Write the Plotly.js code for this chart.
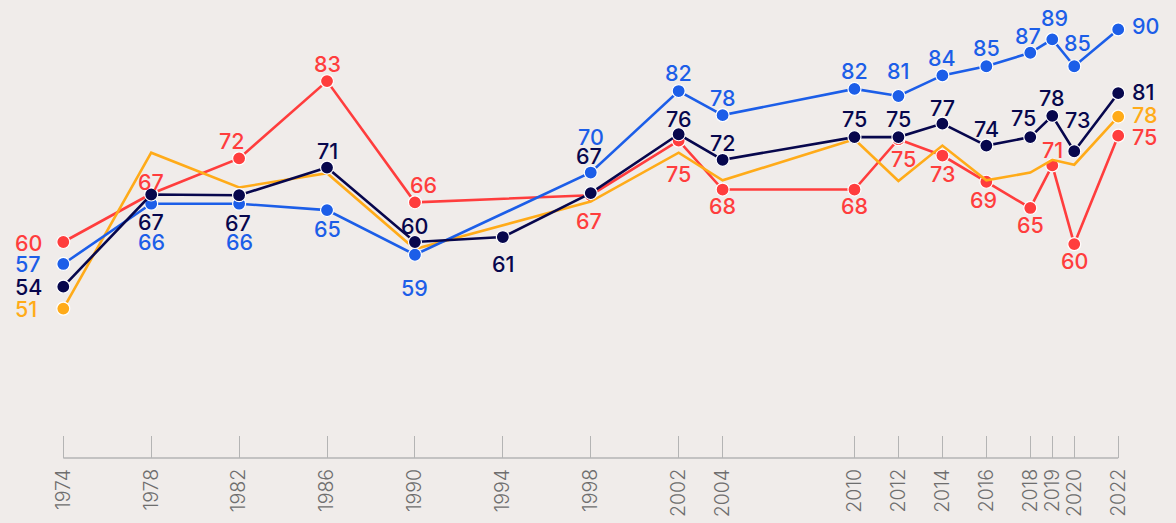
<!DOCTYPE html>
<html>
<head>
<meta charset="utf-8">
<script src="https://cdn.plot.ly/plotly-3.0.1.min.js"></script>
<style>
  html, body { margin: 0; padding: 0; background: #f0ecea; }
  #chart { width: 1176px; height: 523px; }
</style>
</head>
<body>
<div id="chart"></div>
<script>
// ---------- DATA ----------
const years      = [1974, 1978, 1982, 1986, 1990, 1998, 2002, 2004, 2010, 2012, 2014, 2016, 2018, 2019, 2020, 2022];
const yearsNavy  = [1974, 1978, 1982, 1986, 1990, 1994, 1998, 2002, 2004, 2010, 2012, 2014, 2016, 2018, 2019, 2020, 2022];
const tickYears  = [1974, 1978, 1982, 1986, 1990, 1994, 1998, 2002, 2004, 2010, 2012, 2014, 2016, 2018, 2019, 2020, 2022];

const redValues    = [60.4, 67.2, 72.2, 83.1, 66.0, 67.0, 74.7, 67.8, 67.8, 74.9, 72.6, 68.9, 65.2, 71.2, 60.1, 75.4];
const blueValues   = [57.3, 65.8, 65.8, 64.9, 58.6, 70.2, 81.7, 78.3, 82.0, 81.0, 83.9, 85.2, 87.1, 89.0, 85.2, 90.4];
const navyValues   = [54.1, 67.1, 67.0, 70.9, 60.4, 61.1, 67.3, 75.6, 72.0, 75.2, 75.2, 77.1, 74.0, 75.2, 78.2, 73.2, 81.4];
const yellowValues = [51.0, 73.0, 68.1, 70.1, 59.4, 66.1, 73.0, 69.1, 74.9, 69.0, 74.0, 69.1, 70.2, 72.0, 71.3, 78.1];

// ---------- STYLE ----------
const COLORS = { red: '#ff3d3d', blue: '#1c5ee8', navy: '#07074d', yellow: '#ffab19' };
const BG = '#f0ecea';
const FONT = 'Inter, "Open Sans", sans-serif';
const AXIS_COLOR = '#b4b4b4';

// label placement (pixel offsets relative to the point; 'L' = left column, 'R' = right of point)
const redLabelOffsets    = [['L',1], [0,-12], [-7.6,-17.8], [0,-17], [8.7,-17.8], [-1.7,25.8], [0,33.3], [0,16.8], [0,16], [5.3,19.7], [0,18.3], [-2.7,18.3], [0,17], [0,-15.5], [0,16.6], ['R',1.8]];
const blueLabelOffsets   = [['L',0.5], [0,38], [0,38], [0,19.2], [0,33], [0,-36], [0,-17.9], [0,-17.2], [0,-17.5], [0,-24.8], [0,-17.5], [0,-17.9], [-2,-16.9], [2,-21.5], [3.7,-23.2], ['R',-3]];
const navyLabelOffsets   = [['L',0], [0,27.4], [-1,27.4], [0,-17], [0,-15.5], [0,27], [-1.7,-36.9], [0,-14.8], [0,-16.8], [0,-17.8], [0,-17.8], [0,-15.5], [0,-16.6], [-6.4,-18.7], [0,-18.2], [3.7,-31], ['R',-1.5]];
const yellowLabelOffsets = [['L',0.5], null, null, null, null, null, null, null, null, null, null, null, null, null, null, ['R',-1.8]];

const LINE_W = 2.6;
const MARKER = (c) => ({ size: 13, color: c, line: { color: '#ffffff', width: 1.2 } });

const traces = [
  { x: years, y: redValues, type: 'scatter', mode: 'lines+markers', name: 'red',
    line: { color: COLORS.red, width: LINE_W }, marker: MARKER(COLORS.red), cliponaxis: false, hoverinfo: 'x+y' },
  { x: years, y: yellowValues, type: 'scatter', mode: 'lines', name: 'yellow',
    line: { color: COLORS.yellow, width: LINE_W }, cliponaxis: false, hoverinfo: 'x+y' },
  { x: [years[0], years[years.length - 1]], y: [yellowValues[0], yellowValues[yellowValues.length - 1]],
    type: 'scatter', mode: 'markers', name: 'yellow-ends', marker: MARKER(COLORS.yellow), cliponaxis: false, hoverinfo: 'x+y' },
  { x: years, y: blueValues, type: 'scatter', mode: 'lines+markers', name: 'blue',
    line: { color: COLORS.blue, width: LINE_W }, marker: MARKER(COLORS.blue), cliponaxis: false, hoverinfo: 'x+y' },
  { x: yearsNavy, y: navyValues, type: 'scatter', mode: 'lines+markers', name: 'navy',
    line: { color: COLORS.navy, width: LINE_W }, marker: MARKER(COLORS.navy), cliponaxis: false, hoverinfo: 'x+y' }
];

const annotations = [];
function addLabels(xs, ys, offs, color) {
  offs.forEach((o, i) => {
    if (!o) return;
    const ann = {
      x: xs[i], y: ys[i], xref: 'x', yref: 'y',
      text: String(Math.round(ys[i])), showarrow: false,
      font: { family: FONT, size: 21.5, color: color, weight: 500 },
      yanchor: 'middle'
    };
    if (o[0] === 'L') { ann.xanchor = 'left'; ann.xshift = -50; ann.yshift = -o[1]; }
    else if (o[0] === 'R') { ann.xanchor = 'left'; ann.xshift = 11.5; ann.yshift = -o[1]; }
    else { ann.xanchor = 'center'; ann.xshift = o[0]; ann.yshift = -o[1]; }
    annotations.push(ann);
  });
}
addLabels(years, redValues, redLabelOffsets, COLORS.red);
addLabels(years, yellowValues, yellowLabelOffsets, COLORS.yellow);
addLabels(years, blueValues, blueLabelOffsets, COLORS.blue);
addLabels(yearsNavy, navyValues, navyLabelOffsets, COLORS.navy);

// axis baseline only spanning the first to last tick year
const shapes = [{
  type: 'line', xref: 'x', yref: 'paper',
  x0: tickYears[0], x1: tickYears[tickYears.length - 1], y0: 0, y1: 0,
  line: { color: AXIS_COLOR, width: 1.5 }, layer: 'below'
}];

const layout = {
  width: 1176, height: 523,
  margin: { l: 0, r: 0, t: 0, b: 65 },
  paper_bgcolor: BG, plot_bgcolor: BG,
  showlegend: false,
  xaxis: {
    range: [1971.12, 2024.63],
    tickmode: 'array', tickvals: tickYears, ticktext: tickYears.map(String),
    tickangle: -90,
    ticks: 'inside', ticklen: 22, tickwidth: 1, tickcolor: AXIS_COLOR,
    showline: false,
    showgrid: false, zeroline: false,
    ticklabelstandoff: 6,
    tickfont: { family: FONT, size: 19.5, color: '#6e6e6e', weight: 300 },
    fixedrange: true
  },
  yaxis: {
    range: [29.92, 94.545],
    visible: false, showgrid: false, zeroline: false, fixedrange: true
  },
  shapes: shapes,
  annotations: annotations
};

Plotly.newPlot('chart', traces, layout, { displayModeBar: false, staticPlot: true });
</script>
</body>
</html>
